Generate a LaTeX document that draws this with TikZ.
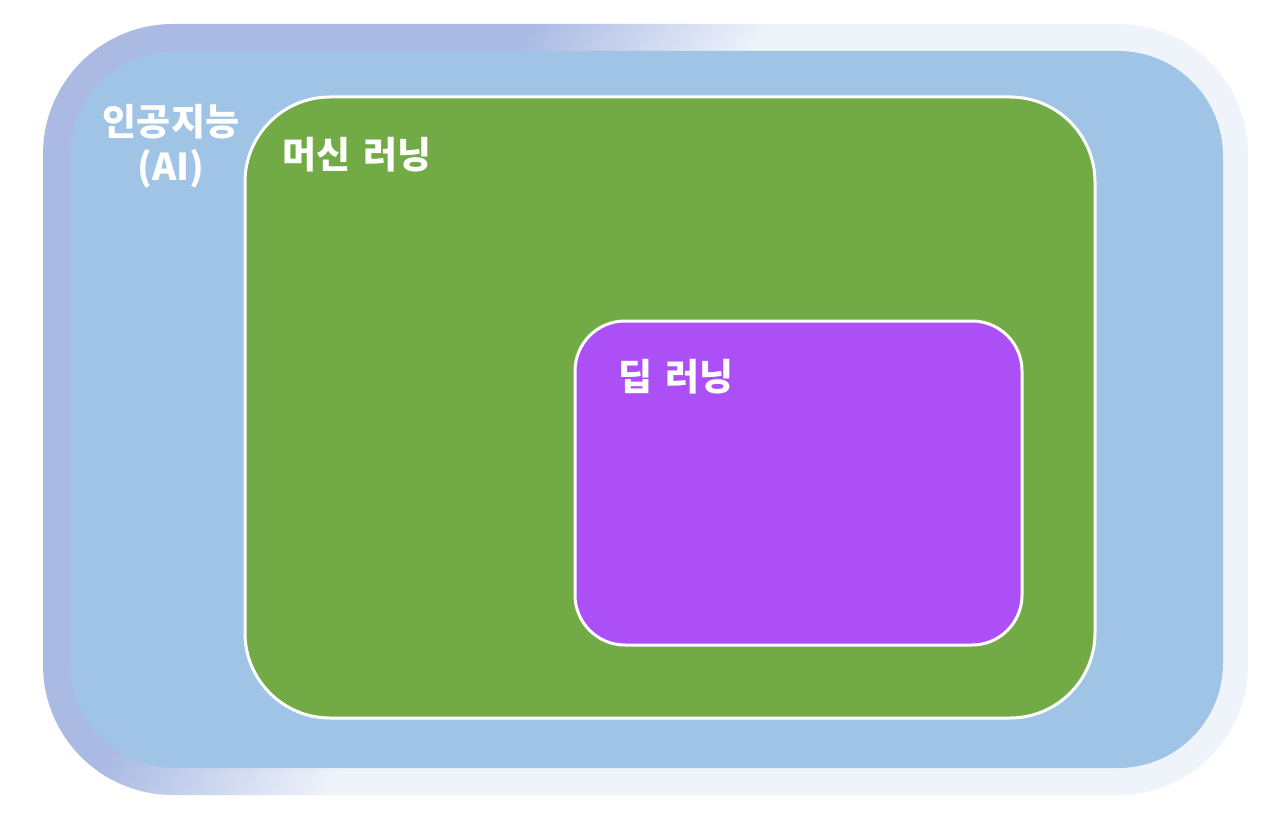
\documentclass[tikz,border=0pt]{standalone}
\usepackage{fontspec}
\newfontfamily\kr{Noto Sans CJK KR}
\definecolor{lav}{HTML}{AABAE3}
\definecolor{lite}{HTML}{EFF3FA}
\definecolor{aiblue}{HTML}{A0C4E6}
\definecolor{mlgreen}{HTML}{72AA45}
\definecolor{dlpurple}{HTML}{AD4FF7}
\pgfdeclareverticalshading{aiborder}{100bp}{color(0bp)=(lav); color(36bp)=(lav); color(46bp)=(lite); color(100bp)=(lite)}
\begin{document}
\begin{tikzpicture}[x=1pt,y=-1pt,
  region/.style={inner sep=0pt, outer sep=0pt},
  setlabel/.style={text=white, font=\kr\bfseries\fontsize{37}{45}\selectfont, inner sep=0pt, align=center}]
\useasboundingbox (0,0) rectangle (1263,832);
\fill[white] (0,0) rectangle (1263,832);
\node[region, shading=aiborder, shading angle=240, rounded corners=130pt,
  minimum width=1205pt, minimum height=771pt] (aiframe) at (645.5,409.5) {};
\node[region, fill=aiblue, rounded corners=105pt,
  minimum width=1153pt, minimum height=717pt] (ai) at (646.5,409.5) {};
\node[region, fill=mlgreen, draw=white, line width=3pt, rounded corners=85pt,
  minimum width=850pt, minimum height=621pt] (ml) at (670,407.5) {};
\node[region, fill=dlpurple, draw=white, line width=3pt, rounded corners=50pt,
  minimum width=447pt, minimum height=324pt] (dl) at (798.5,483) {};
\node[setlabel] (ailabel) at (171,146) {인공지능\\(AI)};
\node[setlabel, anchor=west] (mllabel) at (282,155) {머신 \hspace{0.12em}러닝};
\node[setlabel, anchor=west] (dllabel) at (618,377) {딥 \hspace{0.12em}러닝};
\end{tikzpicture}
\end{document}
